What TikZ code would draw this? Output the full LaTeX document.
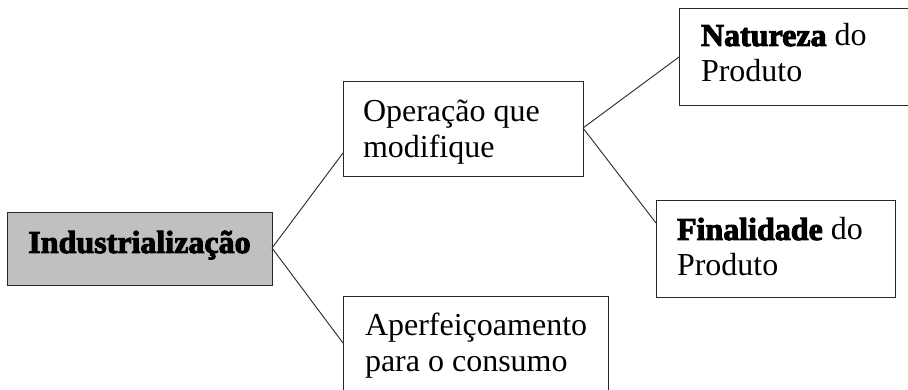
\documentclass[tikz,border=0pt]{standalone}
\usepackage{fontspec}
\setmainfont{Liberation Serif}
\newfontface\heavy{Liberation Serif Bold}[FakeBold=3]
\usetikzlibrary{calc}
\definecolor{boxgrey}{RGB}{192,192,192}
\definecolor{edge}{RGB}{40,40,40}
\begin{document}
\begin{tikzpicture}[x=1pt,y=-1pt,
  box/.style={draw=edge, line width=1pt, fill=white, anchor=north west, inner sep=0pt, outer sep=0pt},
  txt/.style={anchor=north west, inner sep=0pt, outer sep=0pt, align=left, font=\fontsize{32}{36}\selectfont},
  link/.style={draw=edge, line width=0.9pt}]
\useasboundingbox (0,0) rectangle (908,390);
% boxes
\node[box, fill=boxgrey, minimum width=265pt, minimum height=73pt] (ind) at (7,213) {};
\node[box, minimum width=240pt, minimum height=95pt] (op) at (343,82) {};
\node[box, minimum width=245pt, minimum height=97pt] (nat) at (679,9) {};
\node[box, minimum width=239pt, minimum height=96pt] (fin) at (656,201) {};
\node[box, minimum width=265pt, minimum height=120pt] (ape) at (343,296) {};
% texts
\node[anchor=base, inner sep=0pt, font=\heavy\fontsize{32}{36}\selectfont] (indt) at ([yshift=-3.5pt]ind.center) {Industrialização};
\node[txt] (opt) at ([xshift=20pt,yshift=-14pt]op.north west) {\rule{0pt}{26pt}Operação que\\modifique};
\node[txt] (natt) at ([xshift=22pt,yshift=-11pt]nat.north west) {\rule{0pt}{26pt}{\heavy Natureza} do\\Produto};
\node[txt] (fint) at ([xshift=21pt,yshift=-13pt]fin.north west) {\rule{0pt}{26pt}{\heavy Finalidade} do\\Produto};
\node[txt] (apet) at ([xshift=22pt,yshift=-13pt]ape.north west) {\rule{0pt}{26pt}Aperfeiçoamento\\para o consumo};
% connectors
\coordinate (indv) at ([yshift=-35pt]ind.north east);
\coordinate (opv) at ([yshift=-46pt]op.north east);
\draw[link] (indv) -- ([yshift=-71pt]op.north west);
\draw[link] (indv) -- ([yshift=-47pt]ape.north west);
\draw[link] (opv) -- ([yshift=-48pt]nat.north west);
\draw[link] (opv) -- ([yshift=-22pt]fin.north west);
\end{tikzpicture}
\end{document}
